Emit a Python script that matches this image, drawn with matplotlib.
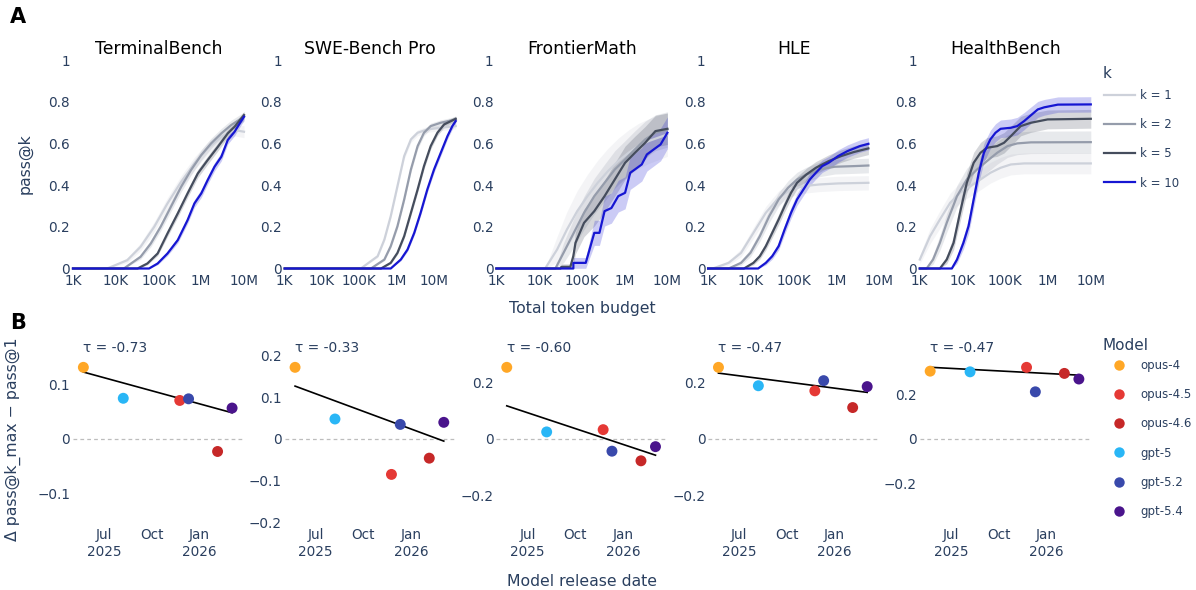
import datetime as dt
import numpy as np
import matplotlib
matplotlib.use("Agg")
import matplotlib.pyplot as plt
import matplotlib.dates as mdates
from matplotlib.lines import Line2D
from matplotlib.transforms import blended_transform_factory

plt.rcParams['font.family'] = ['DejaVu Sans']

# ---------------- data ----------------
benchmarks = ['TerminalBench', 'SWE-Bench Pro', 'FrontierMath', 'HLE', 'HealthBench']
k_values = [1, 2, 5, 10]
k_colors = ['#cdd1da', '#959cab', '#454d5d', '#1616d2']

# pass@k curves, per k: (log10 of total token budget, pass@k)
terminal_curves = {
    1: ([3.0, 3.80, 4.27, 4.58, 4.90, 5.21, 5.53, 5.84, 6.15, 6.47, 6.78, 7.0],
        [0, 0, 0.04, 0.104, 0.20, 0.312, 0.416, 0.504, 0.576, 0.632, 0.664, 0.656]),
    2: ([3.0, 4.19, 4.58, 4.82, 5.05, 5.29, 5.53, 5.76, 6.00, 6.23, 6.47, 6.70, 7.0],
        [0, 0, 0.056, 0.12, 0.20, 0.296, 0.392, 0.472, 0.544, 0.60, 0.648, 0.688, 0.728]),
    5: ([3.0, 4.51, 4.74, 4.98, 5.21, 5.45, 5.68, 5.92, 6.15, 6.39, 6.62, 6.78, 7.0],
        [0, 0, 0.024, 0.072, 0.168, 0.264, 0.36, 0.456, 0.52, 0.584, 0.648, 0.68, 0.736]),
    10: ([3.0, 4.78, 4.98, 5.21, 5.45, 5.68, 5.84, 6.0, 6.15, 6.31, 6.47, 6.62, 6.78, 6.90, 7.0],
         [0, 0, 0.024, 0.072, 0.136, 0.232, 0.312, 0.36, 0.424, 0.488, 0.536, 0.616, 0.656, 0.696, 0.728]),
}
swe_curves = {
    1: ([3.0, 5.04, 5.49, 5.67, 5.84, 6.02, 6.20, 6.38, 6.56, 6.82, 7.18, 7.58],
        [0, 0, 0.059, 0.139, 0.251, 0.395, 0.539, 0.619, 0.651, 0.667, 0.675, 0.683]),
    2: ([3.0, 5.31, 5.67, 5.84, 6.02, 6.20, 6.38, 6.56, 6.73, 6.91, 7.18, 7.58],
        [0, 0, 0.043, 0.107, 0.203, 0.331, 0.475, 0.587, 0.651, 0.683, 0.699, 0.715]),
    5: ([3.0, 5.58, 5.84, 6.02, 6.20, 6.38, 6.56, 6.73, 6.91, 7.09, 7.27, 7.58],
        [0, 0, 0.027, 0.075, 0.155, 0.267, 0.379, 0.491, 0.587, 0.651, 0.691, 0.718]),
    10: ([3.0, 5.84, 6.11, 6.29, 6.47, 6.64, 6.82, 7.0, 7.18, 7.36, 7.49, 7.58],
         [0, 0, 0.043, 0.091, 0.171, 0.267, 0.379, 0.475, 0.555, 0.635, 0.683, 0.707]),
}
frontier_curves = {
    1: ([3.0, 4.14, 4.42, 4.65, 4.89, 5.13, 5.37, 5.61, 5.85, 6.09, 6.32, 6.56, 7.0],
        [0, 0, 0.091, 0.187, 0.275, 0.347, 0.411, 0.467, 0.515, 0.555, 0.587, 0.611, 0.643]),
    2: ([3.0, 4.38, 4.57, 4.81, 5.05, 5.29, 5.53, 5.77, 6.01, 6.24, 6.48, 6.72, 7.0],
        [0, 0, 0.075, 0.171, 0.267, 0.347, 0.411, 0.475, 0.523, 0.571, 0.619, 0.651, 0.667]),
    5: ([3.0, 4.50, 4.52, 4.73, 4.80, 4.85, 5.05, 5.29, 5.53, 5.77, 6.01, 6.24, 6.48, 6.72, 7.0],
        [0, 0, 0.008, 0.008, 0.06, 0.123, 0.219, 0.275, 0.347, 0.427, 0.507, 0.555, 0.603, 0.659, 0.67]),
    10: ([3.0, 4.80, 4.80, 5.09, 5.29, 5.41, 5.53, 5.69, 5.85, 6.01, 6.13, 6.24, 6.40, 6.52, 6.68, 6.84, 7.0],
         [0, 0, 0.027, 0.027, 0.171, 0.171, 0.275, 0.29, 0.347, 0.363, 0.459, 0.475, 0.499, 0.547, 0.571, 0.595, 0.651]),
}
hle_curves = {
    1: ([3.0, 3.11, 3.48, 3.77, 4.06, 4.35, 4.65, 4.94, 5.23, 5.60, 6.04, 6.75],
        [0, 0, 0.027, 0.075, 0.171, 0.267, 0.339, 0.379, 0.395, 0.403, 0.408, 0.411]),
    2: ([3.0, 3.48, 3.77, 3.99, 4.21, 4.43, 4.65, 4.87, 5.08, 5.30, 5.60, 5.96, 6.40, 6.75],
        [0, 0, 0.027, 0.075, 0.155, 0.251, 0.331, 0.387, 0.427, 0.451, 0.475, 0.488, 0.491, 0.494]),
    5: ([3.0, 3.84, 4.06, 4.21, 4.35, 4.50, 4.65, 4.79, 4.94, 5.08, 5.30, 5.52, 5.82, 6.11, 6.40, 6.75],
        [0, 0, 0.027, 0.059, 0.107, 0.171, 0.235, 0.299, 0.363, 0.411, 0.451, 0.483, 0.515, 0.539, 0.558, 0.576]),
    10: ([3.0, 4.17, 4.35, 4.50, 4.65, 4.79, 4.94, 5.08, 5.23, 5.38, 5.52, 5.67, 5.82, 6.04, 6.26, 6.55, 6.75],
         [0, 0, 0.027, 0.059, 0.107, 0.187, 0.267, 0.331, 0.379, 0.427, 0.459, 0.491, 0.507, 0.539, 0.563, 0.587, 0.598]),
}
health_curves = {
    1: ([3.0, 3.24, 3.47, 3.71, 3.94, 4.18, 4.42, 4.65, 4.89, 5.13, 5.44, 7.0],
        [0.043, 0.155, 0.235, 0.315, 0.363, 0.395, 0.427, 0.459, 0.483, 0.499, 0.504, 0.504]),
    2: ([3.0, 3.16, 3.31, 3.47, 3.63, 3.87, 4.10, 4.34, 4.57, 4.81, 5.05, 5.28, 5.60, 7.0],
        [0, 0, 0.043, 0.123, 0.219, 0.347, 0.427, 0.475, 0.515, 0.555, 0.587, 0.60, 0.605, 0.606]),
    5: ([3.0, 3.47, 3.63, 3.79, 3.94, 4.10, 4.26, 4.42, 4.57, 4.81, 4.97, 5.13, 5.36, 5.60, 5.99, 7.0],
        [0, 0, 0.043, 0.123, 0.267, 0.411, 0.507, 0.555, 0.579, 0.587, 0.603, 0.635, 0.683, 0.699, 0.715, 0.718]),
    10: ([3.0, 3.75, 3.87, 4.02, 4.14, 4.26, 4.38, 4.50, 4.65, 4.77, 4.89, 5.13, 5.28, 5.44, 5.56, 5.76, 5.91, 6.23, 7.0],
         [0, 0, 0.043, 0.123, 0.203, 0.331, 0.459, 0.555, 0.619, 0.651, 0.67, 0.675, 0.683, 0.707, 0.728, 0.763, 0.773, 0.786, 0.787]),
}
all_curves = [terminal_curves, swe_curves, frontier_curves, hle_curves, health_curves]

# half-width of the shaded interval at pass@k = 0.5, per k (1, 2, 5, 10)
band_terminal = [0.03, 0.025, 0.02, 0.02]
band_swe = [0.015, 0.015, 0.015, 0.015]
band_frontier = [0.11, 0.09, 0.08, 0.08]
band_hle = [0.035, 0.035, 0.03, 0.03]
band_health = [0.05, 0.055, 0.05, 0.045]
all_bands = [band_terminal, band_swe, band_frontier, band_hle, band_health]

models = ['opus-4', 'opus-4.5', 'opus-4.6', 'gpt-5', 'gpt-5.2', 'gpt-5.4']
model_colors = ['#ffa726', '#e53935', '#c62828', '#29b6f6', '#3949ab', '#4a148c']
release_dates = ['2025-05-22', '2025-11-24', '2026-02-05', '2025-08-07', '2025-12-11', '2026-03-05']

# pass@k_max - pass@1, same order as models
delta_terminal = [0.132, 0.071, -0.023, 0.075, 0.074, 0.057]
delta_swe = [0.172, -0.085, -0.046, 0.048, 0.035, 0.040]
delta_frontier = [0.253, 0.033, -0.077, 0.025, -0.043, -0.027]
delta_hle = [0.253, 0.170, 0.111, 0.188, 0.206, 0.185]
delta_health = [0.302, 0.319, 0.292, 0.299, 0.210, 0.267]
all_deltas = [delta_terminal, delta_swe, delta_frontier, delta_hle, delta_health]
taus = ['-0.73', '-0.33', '-0.60', '-0.47', '-0.47']

# ---------------- layout ----------------
W, H = 1196, 590
INK = '#2a3f5f'
fig = plt.figure(figsize=(W / 100, H / 100), dpi=100)


def add_px_axes(x0, y0, w, h):
    return fig.add_axes([x0 / W, 1 - (y0 + h) / H, w / W, h / H])


def plain(ax):
    for s in ax.spines.values():
        s.set_visible(False)
    ax.tick_params(length=0, labelcolor=INK, labelsize=9.8, pad=2)
    ax.set_facecolor('white')


def fmt_num(v):
    if abs(v) < 1e-9:
        return '0'
    return f'{v:g}'.replace('-', '\u2212')


def theil_sen(x, y):
    # median of pairwise slopes; intercept as median(y) - slope * median(x)
    slopes = []
    for i in range(len(x)):
        for j in range(i + 1, len(x)):
            if x[j] != x[i]:
                slopes.append((y[j] - y[i]) / (x[j] - x[i]))
    m = np.median(slopes)
    b = np.median(y) - m * np.median(x)
    return m, b


lefts = [73 + i * 211.7 for i in range(5)]
panel_w = 171
y_steps = [0.1, 0.1, 0.2, 0.2, 0.2]
dates = [dt.datetime.strptime(d, '%Y-%m-%d') for d in release_dates]
dnum = mdates.date2num(dates)

for i, name in enumerate(benchmarks):
    # ---- top row: pass@k vs budget
    ax = add_px_axes(lefts[i], 60, panel_w, 208.5)
    plain(ax)
    ax.tick_params(axis='x', pad=4)
    ax.set_xscale('log')
    xmax = 0
    for j, k in enumerate(k_values):
        lx, v = all_curves[i][k]
        x = 10 ** np.array(lx)
        v = np.array(v)
        half = all_bands[i][j] * 2 * np.sqrt(v * (1 - v))
        ax.fill_between(x, np.clip(v - half, 0, 1), np.clip(v + half, 0, 1),
                        color=k_colors[j], alpha=0.22, lw=0)
        ax.plot(x, v, color=k_colors[j], lw=1.6, clip_on=False, zorder=3 + j)
        xmax = max(xmax, lx[-1])
    ax.set_xlim(1e3, 10 ** xmax)
    ax.set_ylim(0, 1)
    ax.set_xticks([1e3, 1e4, 1e5, 1e6, 1e7])
    ax.set_xticklabels(['1K', '10K', '100K', '1M', '10M'])
    ax.xaxis.set_minor_locator(plt.NullLocator())
    ax.set_yticks([0, 0.2, 0.4, 0.6, 0.8, 1.0])
    ax.set_yticklabels([fmt_num(t) for t in [0, 0.2, 0.4, 0.6, 0.8, 1]])
    ax.set_title(name, fontsize=12.4, color='black', pad=4.5)

    # ---- bottom row: delta vs release date
    bx = add_px_axes(lefts[i], 353, panel_w, 172)
    plain(bx)
    d = np.array(all_deltas[i])
    lim = 1.2 * np.max(np.abs(d))
    bx.set_ylim(-lim, lim)
    bx.axhline(0, color='#bdbdbd', lw=0.9, ls=(0, (3, 2.5)), zorder=1)
    m, b = theil_sen(dnum, d)
    xs = np.array([dnum.min(), dnum.max()])
    bx.plot(xs, m * xs + b, color='black', lw=1.2, zorder=2)
    bx.scatter(dnum, d, c=model_colors, s=62, lw=0, zorder=3, clip_on=False)
    bx.set_xlim(dnum.min() - 20, dnum.max() + 23)
    step = y_steps[i]
    ticks = np.arange(-np.floor(lim / step), np.floor(lim / step) + 1) * step
    bx.set_yticks(ticks)
    bx.set_yticklabels([fmt_num(round(t, 3)) for t in ticks])
    tick_dates = [dt.datetime(2025, 7, 1), dt.datetime(2025, 10, 1), dt.datetime(2026, 1, 1)]
    bx.set_xticks(mdates.date2num(tick_dates))
    bx.set_xticklabels(['Jul\n2025', 'Oct', 'Jan\n2026'], linespacing=1.3, va='top')
    trans = blended_transform_factory(bx.transData, bx.transAxes)
    bx.text(dnum.min(), 0.99, f'\u03c4 = {taus[i]}', transform=trans, ha='left', va='bottom',
            fontsize=10, color=INK)

# axis titles and panel letters
fig.text(582 / W, 1 - 308 / H, 'Total token budget', ha='center', va='center', fontsize=11.3, color=INK)
fig.text(582 / W, 1 - 582 / H, 'Model release date', ha='center', va='center', fontsize=11.3, color=INK)
fig.text(25 / W, 1 - 164 / H, 'pass@k', ha='center', va='center', rotation=90, fontsize=11.3, color=INK)
fig.text(13 / W, 1 - 439 / H, '\u0394 pass@k_max \u2212 pass@1', ha='center', va='center',
         rotation=90, fontsize=11.3, color=INK)
fig.text(18 / W, 1 - 17 / H, 'A', ha='center', va='center', fontsize=15, fontweight='bold')
fig.text(18 / W, 1 - 323 / H, 'B', ha='center', va='center', fontsize=15, fontweight='bold')

# legends (titles drawn separately to control the gap)
fig.text(1103 / W, 1 - 74 / H, 'k', ha='left', va='center', fontsize=11, color=INK)
k_handles = [Line2D([], [], color=c, lw=1.6) for c in k_colors]
leg1 = fig.legend(k_handles, [f'k = {k}' for k in k_values], loc='upper left',
                  bbox_to_anchor=(1104 / W, 1 - 89 / H), frameon=False,
                  fontsize=8.5, handlelength=2.6, handletextpad=0.45,
                  labelspacing=1.37, borderaxespad=0, borderpad=0)
for t in leg1.get_texts():
    t.set_color(INK)

fig.text(1103 / W, 1 - 345 / H, 'Model', ha='left', va='center', fontsize=11, color=INK)
m_handles = [Line2D([], [], color=c, marker='o', ls='', ms=7.5, mew=0) for c in model_colors]
leg2 = fig.legend(m_handles, models, loc='upper left',
                  bbox_to_anchor=(1104 / W, 1 - 359 / H), frameon=False,
                  fontsize=8.5, handlelength=2.6, handletextpad=0.45,
                  labelspacing=1.37, borderaxespad=0, borderpad=0)
for t in leg2.get_texts():
    t.set_color(INK)

fig.savefig('out.png', dpi=100, facecolor='white')
